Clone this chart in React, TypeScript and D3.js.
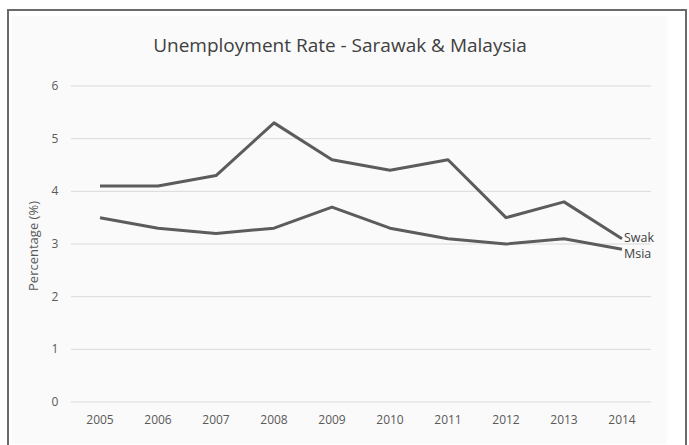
import React from "react";
import * as d3 from "d3";

const years = ["2005","2006","2007","2008","2009","2010","2011","2012","2013","2014"];
const swak = [4.1, 4.1, 4.3, 5.3, 4.6, 4.4, 4.6, 3.5, 3.8, 3.1];
const msia = [3.5, 3.3, 3.2, 3.3, 3.7, 3.3, 3.1, 3.0, 3.1, 2.9];
const yTicks = [0, 1, 2, 3, 4, 5, 6];
const seriesNames = ["Swak", "Msia"];

export default function App() {
  const W = 689, H = 445;
  const left = 71, right = 651, top = 86, bottom = 402;
  const x = d3.scaleBand<string>().domain(years).range([left, right]);
  const y = d3.scaleLinear().domain([0, 6]).range([bottom, top]);
  const line = d3.line<number>().x((_, i) => (x(years[i]) as number) + x.bandwidth() / 2).y(d => y(d));
  const font = "'Open Sans', 'Noto Sans', sans-serif";
  const series = [swak, msia];
  return (
    <svg width={W} height={H} style={{ position: "absolute", left: 0, top: 0 }}>
      <rect x={0} y={0} width={W} height={H} fill="#ffffff" />
      <rect x={8} y={10} width={678} height={445} fill="#ffffff" stroke="#6a6a6a" strokeWidth={2} />
      <rect x={12} y={16} width={655} height={428} fill="#fafafa" />
      <text x={340} y={52} textAnchor="middle" fontFamily={font} fontSize={19} fill="#404040">
        Unemployment Rate - Sarawak &amp; Malaysia
      </text>
      {yTicks.map(t => (
        <g key={t}>
          <line x1={left} x2={right} y1={y(t)} y2={y(t)} stroke="#d9d9d9" strokeWidth={1} />
          <text x={55} y={y(t) + 4} textAnchor="middle" fontFamily={font} fontSize={12} fill="#595959">{t}</text>
        </g>
      ))}
      {years.map(yr => (
        <text key={yr} x={(x(yr) as number) + x.bandwidth() / 2} y={424} textAnchor="middle" fontFamily={font} fontSize={12} fill="#595959">{yr}</text>
      ))}
      <text transform={`translate(38,${(top + bottom) / 2 + 2}) rotate(-90)`} textAnchor="middle" fontFamily={font} fontSize={13} fill="#595959">Percentage (%)</text>
      {series.map((s, i) => (
        <path key={i} d={line(s) as string} fill="none" stroke="#5c5c5c" strokeWidth={3} strokeLinejoin="round" />
      ))}
      {series.map((s, i) => (
        <text key={"l" + i} x={(x(years[9]) as number) + x.bandwidth() / 2 + 2} y={y(s[9]) + (i === 0 ? 3.5 : 8.5)} fontFamily={font} fontSize={12.5} fill="#404040">{seriesNames[i]}</text>
      ))}
    </svg>
  );
}
